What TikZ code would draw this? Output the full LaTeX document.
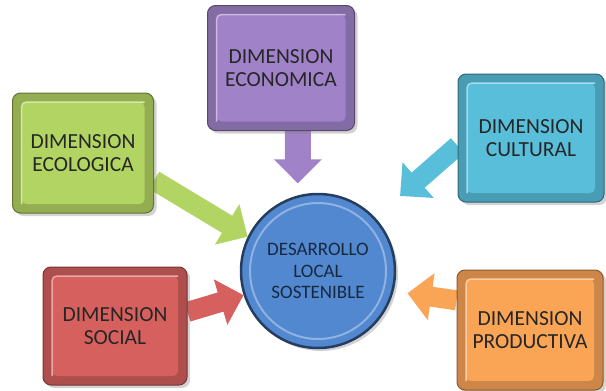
\documentclass[tikz,border=0pt]{standalone}
\usepackage{fontspec}
\setmainfont{Carlito}
\usetikzlibrary{arrows.meta,shadows,backgrounds}

\definecolor{verde}{RGB}{178,212,98}
\definecolor{morado}{RGB}{160,130,200}
\definecolor{celeste}{RGB}{88,190,218}
\definecolor{rojo}{RGB}{214,96,94}
\definecolor{naranja}{RGB}{250,164,86}
\definecolor{azul}{RGB}{82,136,208}

\begin{document}
\begin{tikzpicture}[x=1pt,y=-1pt,
    dimbox/.style={rectangle,
          rounded corners=8pt,
          minimum width=145pt,
          minimum height=122pt,
          align=center,
          text=black!85,
          font=\fontsize{21.5}{23}\selectfont,
          fill=#1!82!black,
          draw=#1!55!black,
          line width=1pt,
          drop shadow={shadow xshift=3pt,shadow yshift=-3pt,opacity=0.35},
          path picture={
            \fill[#1, rounded corners=5pt]
              ([shift={(9pt,9pt)}]path picture bounding box.south west) rectangle
              ([shift={(-9pt,-9pt)}]path picture bounding box.north east);
            \draw[#1!55!white, line width=1.5pt, rounded corners=5pt]
              ([shift={(9pt,9pt)}]path picture bounding box.south west) --
              ([shift={(9pt,-9pt)}]path picture bounding box.north west) --
              ([shift={(-9pt,-9pt)}]path picture bounding box.north east);
          }},
    flecha/.style={line width=20pt,
          draw=#1,
          -{Triangle[length=24pt,width=46pt]}}]

    \useasboundingbox (0,0) rectangle (606,391);

    % Add the center
    \node[circle,
          minimum size=154pt,
          align=center,
          text=azul!30!black,
          font=\fontsize{19}{21.5}\selectfont,
          fill=azul,
          draw=azul!45!black,
          line width=2.5pt,
          drop shadow={shadow xshift=3pt,shadow yshift=-3pt,opacity=0.35},
          path picture={
            \draw[azul!65!white, line width=2pt]
              (path picture bounding box.center) circle (68pt);
          }] (dls) at (318,271) {DESARROLLO\\LOCAL\\SOSTENIBLE};

    % Add the dimensions
    \node[dimbox=verde,
          minimum width=141pt,
          minimum height=120pt] (eco) at (83,153) {DIMENSION\\ECOLOGICA};
    \node[dimbox=morado,
          minimum width=147pt,
          minimum height=125pt] (econ) at (281,68) {DIMENSION\\ECONOMICA};
    \node[dimbox=celeste,
          minimum width=146pt,
          minimum height=128pt] (cul) at (531,138) {DIMENSION\\CULTURAL};
    \node[dimbox=rojo,
          minimum width=144pt,
          minimum height=118pt] (soc) at (115,326) {DIMENSION\\SOCIAL};
    \node[dimbox=naranja,
          minimum width=146pt,
          minimum height=120pt] (prod) at (530,330) {DIMENSION\\PRODUCTIVA};

    % Connect the dimensions with the center
    \begin{scope}[on background layer]
    \draw[flecha=verde] (eco.-21) -- (dls.154);
    \draw[flecha=morado, line width=26pt, shorten >=12pt] (econ.-75) -- (dls.105);
    \draw[flecha=celeste, shorten >=33pt] (cul.186) -- (dls.43);
    \draw[flecha=rojo] (soc.11) -- (dls.198);
    \draw[flecha=naranja, shorten >=14pt] (prod.158) -- (dls.-15);
    \end{scope}
\end{tikzpicture}
\end{document}
